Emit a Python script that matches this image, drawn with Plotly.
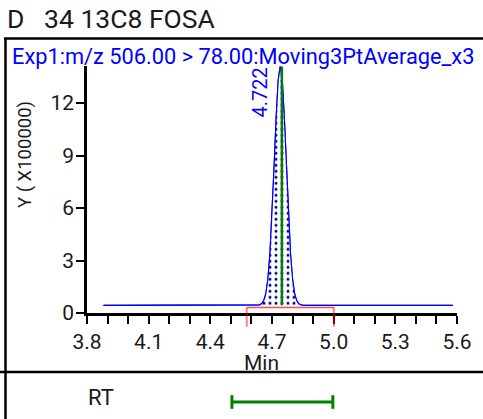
import plotly.graph_objects as go

# ---------------- data ----------------
title_text = "D  34 13C8 FOSA"
trace_label = "Exp1:m/z 506.00 > 78.00:Moving3PtAverage_x3"
y_title = "Y ( X100000)"
x_title = "Min"

time_min = [3.88, 4.55, 4.60, 4.63, 4.64, 4.65, 4.66, 4.67, 4.68, 4.69, 4.70,
            4.71, 4.72, 4.73, 4.74, 4.75, 4.76, 4.77, 4.78, 4.79, 4.80,
            4.81, 4.82, 4.83, 4.84, 4.85, 4.90, 5.58]
intensity = [0.44, 0.44, 0.44, 0.45, 0.47, 0.53, 0.71, 1.11, 1.93, 3.37, 5.54,
             8.29, 11.12, 13.28, 14.10, 13.28, 11.12, 8.29, 5.54, 3.37, 1.93,
             1.11, 0.71, 0.53, 0.47, 0.45, 0.44, 0.44]

apex_label = "4.722"
apex_rt = 4.722
expected_rt = 4.748
baseline_level = 0.44
integ_start = 4.577
integ_end = 5.001
integ_level = 0.32
integ_tail = -0.78
rt_window = [4.505, 4.996]

x_range = [3.8, 5.6]
y_range = [0, 14.1]
x_tickvals = [3.8, 4.1, 4.4, 4.7, 5.0, 5.3, 5.6]
y_tickvals = [0, 3, 6, 9, 12]

# ---------------- layout geometry ----------------
W, H = 483, 419
FONT = "Roboto"
def px_x(p):
    return p / W
def px_y(p):
    return 1 - p / H

x_dom = [px_x(87), px_x(457)]
y_dom = [px_y(313), px_y(66.25)]
# free axis covering everything below the plot with the same scale
unit_paper = (y_dom[1] - y_dom[0]) / (y_range[1] - y_range[0])
y2_range = [y_range[0] - y_dom[0] / unit_paper, y_range[1]]
y2_dom = [0, y_dom[1]]

fig = go.Figure()

# chromatogram
fig.add_trace(go.Scatter(x=time_min, y=intensity, mode="lines",
                         line=dict(color="#0000ff", width=1.2),
                         hoverinfo="skip", showlegend=False))
# integrated peak (dotted fill)
pk = [(t, v) for t, v in zip(time_min, intensity) if integ_start <= t <= integ_end and v > baseline_level]
fig.add_trace(go.Scatter(x=[p[0] for p in pk], y=[p[1] for p in pk], mode="lines",
                         fill="toself", line=dict(width=0, color="rgba(0,0,0,0)"),
                         fillcolor="white",
                         fillpattern=dict(shape=".", fgcolor="#000080", bgcolor="white",
                                          fgopacity=1, size=6, solidity=0.2),
                         hoverinfo="skip", showlegend=False))
# redraw the peak outline over the fill
fig.add_trace(go.Scatter(x=time_min, y=intensity, mode="lines",
                         line=dict(color="#0000ff", width=1.2),
                         hoverinfo="skip", showlegend=False))
# expected RT marker
fig.add_trace(go.Scatter(x=[expected_rt, expected_rt], y=[baseline_level, y_range[1]], mode="lines",
                         line=dict(color="#008000", width=2.5), hoverinfo="skip", showlegend=False))
# integration boundaries
fig.add_trace(go.Scatter(x=[integ_start, integ_end], y=[integ_level, integ_level], mode="lines",
                         line=dict(color="rgba(255,0,0,0.7)", width=1.5), yaxis="y2",
                         hoverinfo="skip", showlegend=False))
for xb in (integ_start, integ_end):
    fig.add_trace(go.Scatter(x=[xb, xb], y=[integ_level, integ_tail], mode="lines",
                             line=dict(color="rgba(255,0,0,0.5)", width=2), yaxis="y2",
                             hoverinfo="skip", showlegend=False))
# RT window bar
fig.add_trace(go.Scatter(x=rt_window, y=[0, 0], mode="lines",
                         line=dict(color="#008000", width=3), yaxis="y3",
                         hoverinfo="skip", showlegend=False))
for xb in rt_window:
    fig.add_trace(go.Scatter(x=[xb, xb], y=[-0.4, 0.4], mode="lines",
                             line=dict(color="#008000", width=3), yaxis="y3",
                             hoverinfo="skip", showlegend=False))

tickfont = dict(family=FONT, size=21, color="#1a1a1a")
fig.update_layout(
    width=W, height=H,
    margin=dict(l=0, r=0, t=0, b=0, autoexpand=False),
    paper_bgcolor="white", plot_bgcolor="rgba(0,0,0,0)",
    font=dict(family=FONT, size=20, color="#1a1a1a"),
    xaxis=dict(domain=x_dom, range=x_range, anchor="y", showgrid=False, zeroline=False,
               automargin=False,
               showline=True, linecolor="black", linewidth=2.5,
               tickmode="array", tickvals=x_tickvals, tickformat=".1f",
               ticks="outside", ticklen=8, tickwidth=2, tickcolor="black",
               minor=dict(dtick=0.1, tick0=3.8, ticks="outside", ticklen=8, tickwidth=2, tickcolor="black"),
               tickfont=tickfont),
    yaxis=dict(domain=y_dom, range=y_range, anchor="x", showgrid=False, zeroline=False,
               automargin=False,
               showline=True, linecolor="black", linewidth=2.5,
               tickmode="array", tickvals=y_tickvals,
               ticks="outside", ticklen=8, tickwidth=2, tickcolor="black",
               ticklabelstandoff=-2,
               tickfont=tickfont),
    yaxis2=dict(domain=y2_dom, range=y2_range, anchor="x", visible=False, fixedrange=True,
                automargin=False),
    yaxis3=dict(domain=[0, 2 * 17 / H], range=[-1, 1], anchor="x", visible=False, fixedrange=True,
                automargin=False),
    shapes=[
        dict(type="line", xref="paper", yref="paper", x0=px_x(4), x1=1, y0=px_y(38.5), y1=px_y(38.5),
             line=dict(color="black", width=2.5)),
        dict(type="line", xref="paper", yref="paper", x0=px_x(5.5), x1=px_x(5.5), y0=px_y(38.5), y1=0,
             line=dict(color="black", width=2.5)),
        dict(type="line", xref="paper", yref="paper", x0=0, x1=1, y0=px_y(372), y1=px_y(372),
             line=dict(color="black", width=2.5)),
    ],
    annotations=[
        dict(text=title_text.replace("  ", "\u00a0\u00a0\u00a0"), xref="paper", yref="paper",
             x=px_x(5), y=px_y(19), xanchor="left",
             yanchor="middle", showarrow=False, font=dict(family=FONT, size=26.5, color="#1a1a1a")),
        dict(text=trace_label, xref="paper", yref="paper", x=px_x(10), y=px_y(56), xanchor="left",
             yanchor="middle", showarrow=False, font=dict(family=FONT, size=21.8, color="#0000ff")),
        dict(text=y_title, xref="paper", yref="paper", x=px_x(25), y=px_y(155), xanchor="center",
             yanchor="middle", textangle=-90, showarrow=False, font=dict(family=FONT, size=18.5, color="#1a1a1a")),
        dict(text=x_title, xref="paper", yref="paper", x=px_x(261), y=px_y(363), xanchor="center",
             yanchor="middle", showarrow=False, font=dict(family=FONT, size=21, color="#1a1a1a")),
        dict(text=apex_label, xref="x", yref="paper", x=apex_rt, y=px_y(66), xanchor="right",
             yanchor="top", textangle=-90, showarrow=False, xshift=-3,
             font=dict(family=FONT, size=20, color="#0000ff")),
        dict(text="RT", xref="paper", yref="paper", x=px_x(101), y=px_y(397), xanchor="center",
             yanchor="middle", showarrow=False, font=dict(family=FONT, size=22, color="#1a1a1a")),
    ],
)

fig.write_html("out.html", config={"displayModeBar": False},
               post_script="document.body.style.margin='0px';")
